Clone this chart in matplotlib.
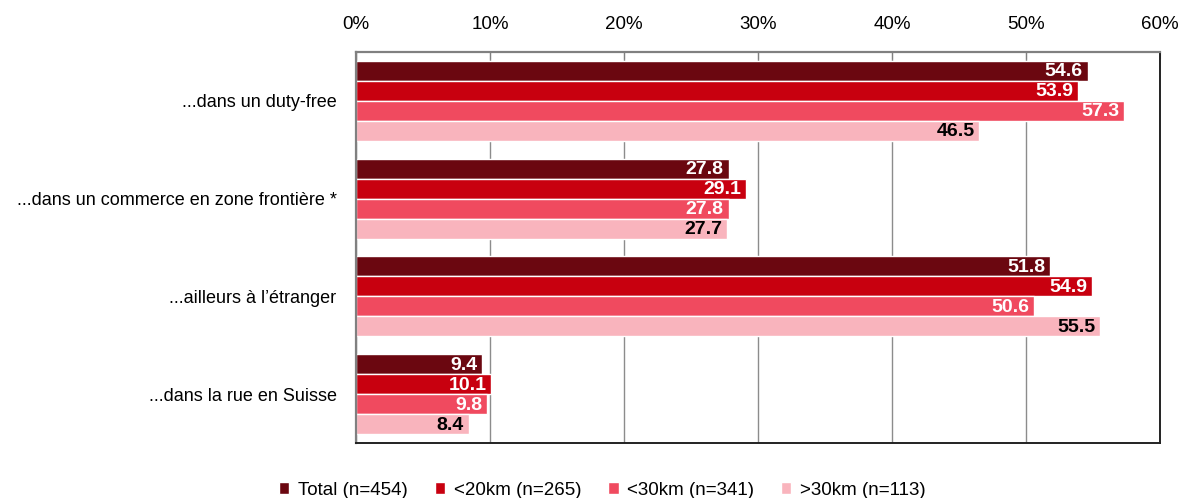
import matplotlib
matplotlib.use('Agg')
import numpy as np
import matplotlib.pyplot as plt
from matplotlib import font_manager

# font: narrow sans if available
names = {f.name for f in font_manager.fontManager.ttflist}
FONT = 'Liberation Sans Narrow' if 'Liberation Sans Narrow' in names else 'Liberation Sans'
plt.rcParams['font.family'] = [FONT, 'DejaVu Sans']

categories = [
    '...dans un duty-free',
    '...dans un commerce en zone frontière *',
    '...ailleurs à l\u2019étranger',
    '...dans la rue en Suisse',
]
series = ['Total (n=454)', '<20km (n=265)', '<30km (n=341)', '>30km (n=113)']
total = [54.6, 27.8, 51.8, 9.4]
km20_lt = [53.9, 29.1, 54.9, 10.1]
km30_lt = [57.3, 27.8, 50.6, 9.8]
km30_gt = [46.5, 27.7, 55.5, 8.4]
values = [total, km20_lt, km30_lt, km30_gt]

colors = ['#6b0710', '#c8000f', '#f04a5f', '#f9b4bd']
label_colors = ['white', 'white', 'white', 'black']

fig = plt.figure(figsize=(11.81, 4.98), dpi=100)
ax = fig.add_axes([356 / 1181, 1 - 443 / 498, 804 / 1181, 391 / 498])

bar_h = 0.205
y = np.arange(len(categories))
for i, (vals, c, lc) in enumerate(zip(values, colors, label_colors)):
    pos = y + (i - 1.5) * bar_h
    ax.barh(pos, vals, height=bar_h, color=c, edgecolor='white', linewidth=1.0,
            label=series[i], zorder=3)
    for p, v in zip(pos, vals):
        ax.text(v - 0.35, p + 0.01, f'{v:.1f}', ha='right', va='center',
                color=lc, fontsize=14, fontweight='bold', zorder=4)

ax.set_xlim(0, 60)
ax.set_ylim(3.5, -0.5)
ax.set_yticks(y)
ax.set_yticklabels(categories, fontsize=13)
ax.tick_params(axis='y', which='both', length=0, pad=14)

ax.xaxis.tick_top()
ax.set_xticks(np.arange(0, 61, 10))
ax.set_xticklabels([f'{t}%' for t in range(0, 61, 10)], fontsize=13.5)
ax.tick_params(axis='x', direction='in', length=5, color='#808080', pad=14)
ax.grid(axis='x', color='#8c8c8c', linewidth=1.0, zorder=0)

for side in ['bottom', 'right']:
    ax.spines[side].set_color('#222222')
    ax.spines[side].set_linewidth(1.4)
for side in ['left', 'top']:
    ax.spines[side].set_color('#808080')
    ax.spines[side].set_linewidth(1.6)
for sp in ax.spines.values():
    sp.set_zorder(5)

fig.legend(loc='lower center', bbox_to_anchor=(0.51, -0.035), ncol=4, frameon=False,
           fontsize=13.5, handlelength=0.55, handleheight=0.55, handletextpad=0.45,
           columnspacing=1.45)

fig.savefig('out.png', dpi=100)
